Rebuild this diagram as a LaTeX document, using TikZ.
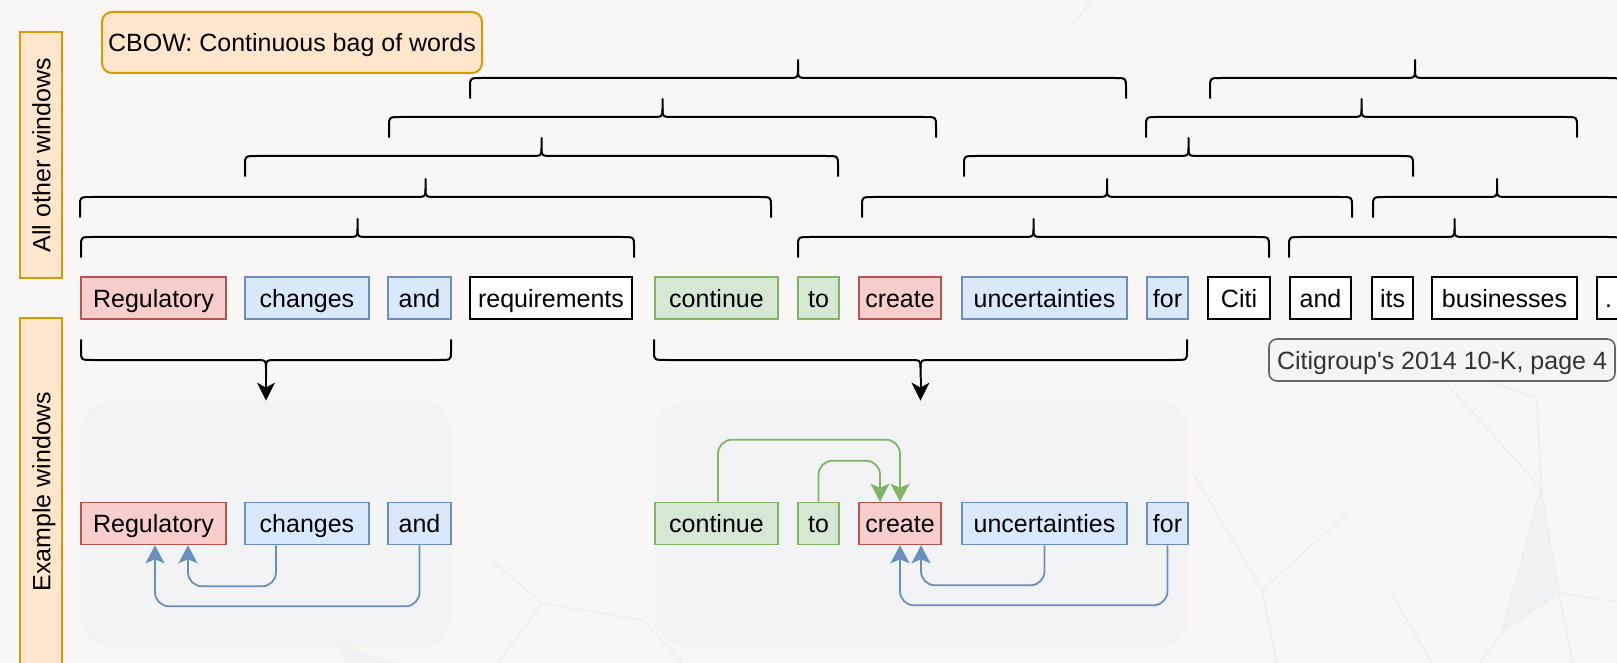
\documentclass[tikz,border=0pt]{standalone}
\usepackage{fontspec}
\setmainfont{Liberation Sans}
\usetikzlibrary{arrows.meta}
\usetikzlibrary{calc}

\definecolor{paper}{HTML}{F9F7F6}
\definecolor{netline}{HTML}{ECEDEF}
\definecolor{netfill}{HTML}{F1F2F3}
\definecolor{winfill}{HTML}{F2F3F4}
\definecolor{orfill}{HTML}{FFE6CC}
\definecolor{orline}{HTML}{D79B00}
\definecolor{redfill}{HTML}{F8CECC}
\definecolor{redline}{HTML}{B85450}
\definecolor{bluefill}{HTML}{DAE8FC}
\definecolor{blueline}{HTML}{6C8EBF}
\definecolor{greenfill}{HTML}{D5E8D4}
\definecolor{greenline}{HTML}{82B366}
\definecolor{srcfill}{HTML}{F5F5F5}
\definecolor{srcline}{HTML}{666666}
\definecolor{srctext}{HTML}{333333}

% curly brace: left x, right x, y of the bar, 1 = tip up / -1 = tip down
\newcommand{\wbrace}[4]{%
  \pgfmathsetmacro{\bmid}{(#1+#2)/2}
  \pgfmathsetmacro{\bend}{#3+20*(#4)}
  \pgfmathsetmacro{\bknee}{#3+9*(#4)}
  \pgfmathsetmacro{\bneck}{#3-8*(#4)}
  \pgfmathsetmacro{\btip}{#3-18*(#4)}
  \draw[brc] (#1,\bend) -- (#1,\bknee) .. controls (#1,#3) .. (#1+12,#3)
    -- (\bmid-12,#3) .. controls (\bmid,#3) .. (\bmid,\bneck) -- (\bmid,\btip);
  \draw[brc] (\bmid,\bneck) .. controls (\bmid,#3) .. (\bmid+12,#3)
    -- (#2-12,#3) .. controls (#2,#3) .. (#2,\bknee) -- (#2,\bend);
}

\begin{document}
\begin{tikzpicture}[x=0.5pt,y=-0.5pt,
    every node/.style={font=\fontsize{12.5}{15}\selectfont,text height=10.5pt,text depth=1.2pt},
    word/.style={draw,line width=0.8pt,minimum height=21pt,inner sep=0pt},
    rw/.style={word,fill=redfill,draw=redline},
    bw/.style={word,fill=bluefill,draw=blueline},
    gw/.style={word,fill=greenfill,draw=greenline},
    kw/.style={word,fill=white,draw=black,line width=1pt},
    side/.style={draw=orline,fill=orfill,line width=1pt,inner sep=0pt},
    win/.style={fill=winfill,rounded corners=15pt,inner sep=0pt},
    brc/.style={line width=1pt,line cap=round},
    karr/.style={line width=1pt,-{Stealth[length=9pt,width=9pt,inset=2.5pt]}},
    barr/.style={draw=blueline,line width=0.9pt,rounded corners=7pt,-{Stealth[length=9pt,width=9.5pt,inset=2pt]}},
    garr/.style={draw=greenline,line width=0.9pt,rounded corners=7pt,-{Stealth[length=9pt,width=9.5pt,inset=2pt]}},
    net/.style={draw=netline,line width=0.6pt}]
    \useasboundingbox (0,0) rectangle (1617,663);
    \clip (0,0) rectangle (1617,663);
    \fill[paper] (0,0) rectangle (1617,663);

    % faint network in the background
    \fill[netfill] (1541,488) -- (1559,593) -- (1502,632) -- cycle;
    \fill[netfill] (339,645) -- (400,663) -- (345,663) -- cycle;
    \draw[net] (1443,380) -- (1541,488) -- (1559,593) -- (1617,602);
    \draw[net] (1493,382) -- (1537,399) -- (1541,488) -- (1502,632) -- (1559,593) -- (1573,663);
    \draw[net] (1502,632) -- (1480,663);
    \draw[net] (1193,473) -- (1262,590) -- (1348,513);
    \draw[net] (1262,590) -- (1277,663);
    \draw[net] (1388,588) -- (1432,663);
    \draw[net] (1092,0) -- (1073,25);
    \draw[net] (491,560) -- (542,603) -- (643,620) -- (683,663);
    \draw[net] (542,603) -- (498,663);

    \node[side,rotate=90,minimum width=123pt,minimum height=21pt] (allw) at (41,155) {All other windows};
    \node[side,rotate=90,minimum width=173.5pt,minimum height=21pt] (exw) at (41,491.5) {Example windows};
    \node[side,rounded corners=5pt,minimum width=190pt,minimum height=30.5pt] (cbow) at (292,42.5) {CBOW: Continuous bag of words};
    \node[draw=srcline,fill=srcfill,text=srctext,line width=0.8pt,rounded corners=4pt,inner sep=0pt,
        minimum width=173pt,minimum height=21pt] (src) at (1442,360) {Citigroup\textquotesingle s 2014 10-K, page 4};

    % the sentence
    \node[rw,minimum width=72.5pt] (reg) at (153.5,298) {Regulatory};
    \node[bw,minimum width=62pt] (chg) at (307,298) {changes};
    \node[bw,minimum width=31.5pt] (and1) at (419.5,298) {and};
    \node[kw,minimum width=81pt] (req) at (551,298) {requirements};
    \node[gw,minimum width=61.5pt] (con) at (716.5,298) {continue};
    \node[gw,minimum width=20.5pt] (to) at (818.5,298) {to};
    \node[rw,minimum width=41pt] (cre) at (900,298) {create};
    \node[bw,minimum width=82.5pt] (unc) at (1044.5,298) {uncertainties};
    \node[bw,minimum width=20.5pt] (for) at (1167.5,298) {for};
    \node[kw,minimum width=31pt] (citi) at (1239,298) {Citi};
    \node[kw,minimum width=30.5pt] (and2) at (1320.5,298) {and};
    \node[kw,minimum width=20.5pt] (its) at (1392.5,298) {its};
    \node[kw,minimum width=72.5pt] (bus) at (1504.5,298) {businesses};
    \node[kw,minimum width=11.5pt] (dot) at (1608.5,298) {.};

    % windows above the sentence
    \wbrace{81}{634}{237}{1}
    \wbrace{798}{1269}{237}{1}
    \wbrace{1289}{1620}{237}{1}
    \wbrace{80}{771}{197}{1}
    \wbrace{862}{1352}{197}{1}
    \wbrace{1373}{1621}{197}{1}
    \wbrace{245}{838}{156}{1}
    \wbrace{964}{1413}{156}{1}
    \wbrace{389}{936}{117}{1}
    \wbrace{1146}{1577}{117}{1}
    \wbrace{470}{1126}{78}{1}
    \wbrace{1210}{1620}{78}{1}

    % two example windows
    \node[win,minimum width=185.5pt,minimum height=123pt] (winL) at (265.5,524) {};
    \node[win,minimum width=266.5pt,minimum height=123pt] (winR) at (921.5,524) {};
    \wbrace{81}{451}{360}{-1}
    \wbrace{654}{1187}{360}{-1}
    \coordinate (tipL) at (266,378);
    \coordinate (tipR) at (920.5,378);
    \draw[karr] (tipL) -- (tipL |- winL.north);
    \draw[karr] (tipR) -- (tipR |- winR.north);

    \node[rw,minimum width=72.5pt] (regB) at (153.5,523.5) {Regulatory};
    \node[bw,minimum width=62pt] (chgB) at (307,523.5) {changes};
    \node[bw,minimum width=31.5pt] (andB) at (419.5,523.5) {and};
    \node[gw,minimum width=61.5pt] (conB) at (716.5,523.5) {continue};
    \node[gw,minimum width=20.5pt] (toB) at (818.5,523.5) {to};
    \node[rw,minimum width=41pt] (creB) at (900,523.5) {create};
    \node[bw,minimum width=82.5pt] (uncB) at (1044.5,523.5) {uncertainties};
    \node[bw,minimum width=20.5pt] (forB) at (1167.5,523.5) {for};

    \draw[barr] ($(chgB.south)+(-31,0)$) -- ++(0,41) -| ($(regB.south)+(34.5,0)$);
    \draw[barr] (andB.south) -- ++(0,61) -| ($(regB.south)+(1.5,0)$);
    \draw[barr] (uncB.south) -- ++(0,40) -| ($(creB.south)+(21,0)$);
    \draw[barr] (forB.south) -- ++(0,60) -| (creB.south);
    \draw[garr] ($(conB.north)+(1.5,0)$) -- ++(0,-62) -| (creB.north);
    \draw[garr] (toB.north) -- ++(0,-41) -| ($(creB.north)+(-20,0)$);
\end{tikzpicture}
\end{document}
